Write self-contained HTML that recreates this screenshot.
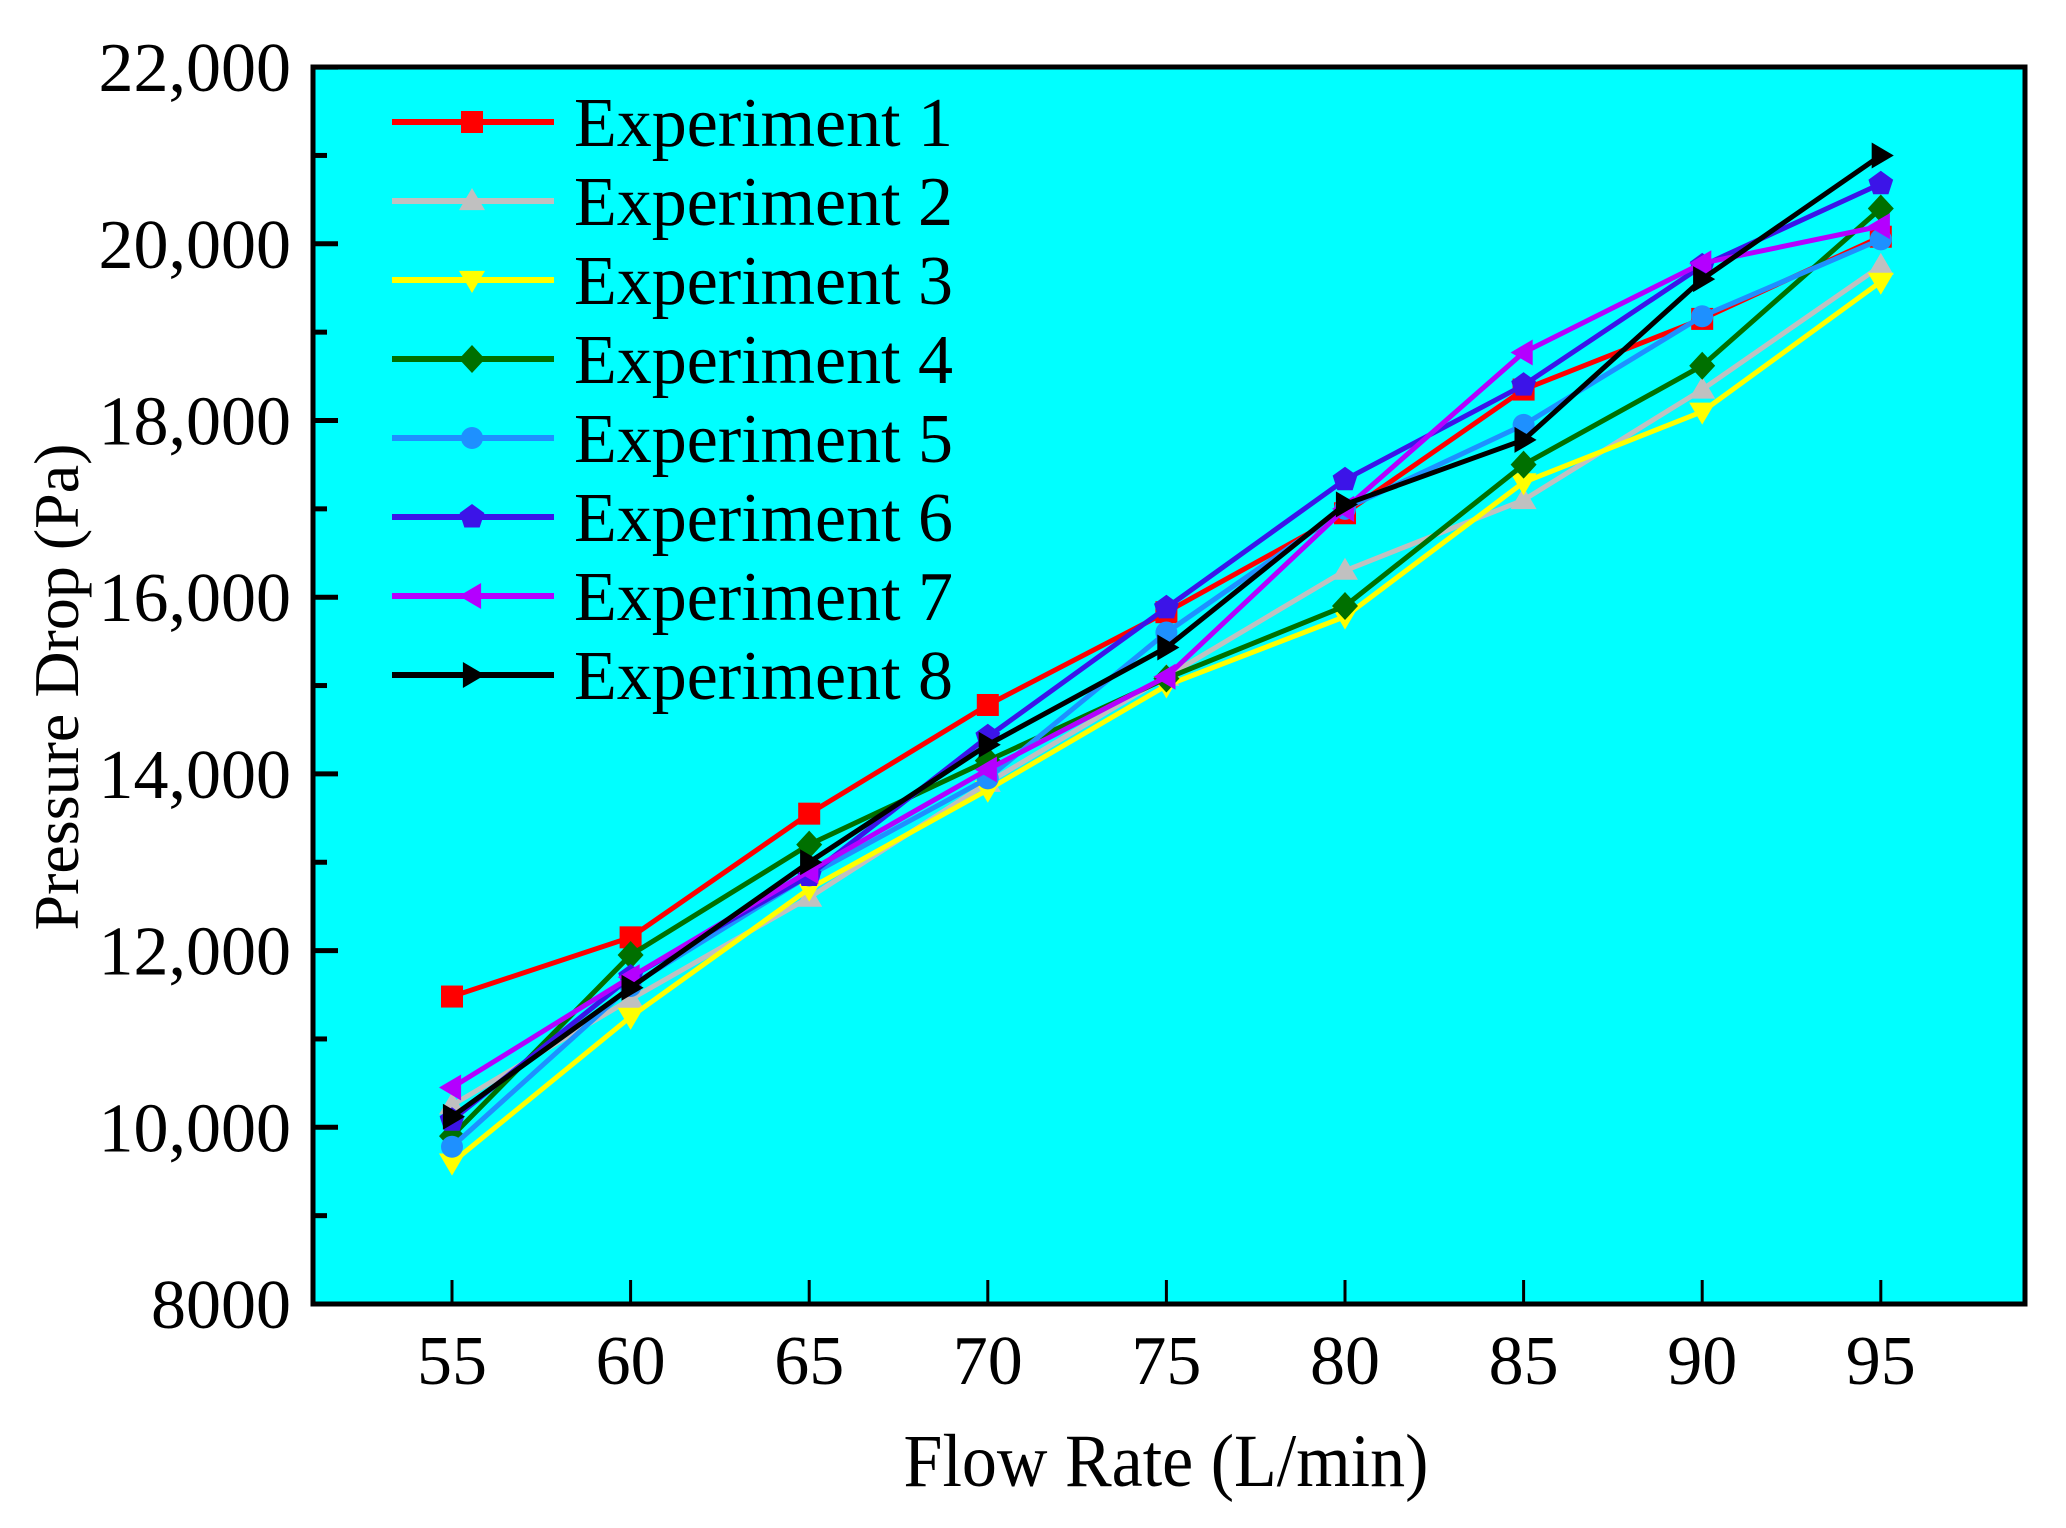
<!DOCTYPE html>
<html><head><meta charset="utf-8"><style>body{margin:0;background:#fff}svg{display:block}text{font-family:"Liberation Serif",serif}</style></head>
<body>
<svg id="chart" width="2066" height="1528" viewBox="0 0 2066 1528" xmlns="http://www.w3.org/2000/svg">
<rect x="313" y="67" width="1712" height="1237" fill="#00ffff"/>
<g id="axes"></g>
<g id="series"></g>
<g id="legend"></g>
<rect x="313" y="67" width="1712" height="1237" fill="none" stroke="#000" stroke-width="5"/>
<text x="1166" y="1486" font-size="70" text-anchor="middle" transform="translate(1166,0) scale(1,1.08) translate(-1166,-110)">Flow Rate (L/min)</text>
<text transform="translate(78,687) rotate(-90)" font-size="64" text-anchor="middle">Pressure Drop (Pa)</text>
</svg>
<script>
const categories=[55,60,65,70,75,80,85,90,95];
const seriesNames=["Experiment 1","Experiment 2","Experiment 3","Experiment 4","Experiment 5","Experiment 6","Experiment 7","Experiment 8"];
const exp1=[11480,12150,13550,14780,15830,16950,18350,19150,20080];
const exp2=[10250,11450,12600,13900,15100,16300,17100,18350,19750];
const exp3=[9600,11250,12700,13820,15000,15780,17300,18100,19570];
const exp4=[9900,11950,13200,14150,15080,15900,17500,18620,20400];
const exp5=[9780,11600,12850,13950,15600,17000,17950,19180,20050];
const exp6=[10080,11700,12850,14420,15880,17330,18400,19750,20680];
const exp7=[10450,11700,12900,14050,15100,17000,18770,19780,20200];
const exp8=[10120,11580,13000,14330,15430,17050,17780,19600,21000];
const yTicks=[8000,10000,12000,14000,16000,18000,20000,22000];
const yTickLabels=["8000","10,000","12,000","14,000","16,000","18,000","20,000","22,000"];
const allSeries=[exp1,exp2,exp3,exp4,exp5,exp6,exp7,exp8];
const colors=["#ff0000","#c0c0c0","#ffff00","#007000","#1e90ff","#3c14e8","#b400ff","#000000"];
const markers=["square","tri-up","tri-down","diamond","circle","pentagon","tri-left","tri-right"];
const NS="http://www.w3.org/2000/svg";
const X=v=>452+(v-55)/5*178.6;
const Y=v=>1304-(v-8000)/2000*176.7;
function mk(tag,attrs,parent){const e=document.createElementNS(NS,tag);for(const k in attrs)e.setAttribute(k,attrs[k]);parent.appendChild(e);return e;}
const axes=document.getElementById('axes');
categories.forEach(c=>{
  const t=mk('line',{x1:X(c),x2:X(c),y1:1304,y2:1280,stroke:'#000','stroke-width':3},axes);
  
  
  const l=mk('text',{x:X(c),y:1384,'font-size':70,'text-anchor':'middle'},axes);l.textContent=c;
  
  
});
yTicks.forEach((v,i)=>{
  const t=mk('line',{x1:313,x2:338,y1:Y(v),y2:Y(v),stroke:'#000','stroke-width':5},axes);
  
  
  if(i<yTicks.length-1){const m=mk('line',{x1:313,x2:327,y1:Y(v+1000),y2:Y(v+1000),stroke:'#000','stroke-width':5},axes);
  
  }
  const l=mk('text',{x:291,y:Y(v)+24,'font-size':70,'text-anchor':'end'},axes);l.textContent=yTickLabels[i];
  
  
});
function marker(type,x,y,color,parent){
  const s=13;let e;
  if(type==='square')e=mk('rect',{x:x-s+2,y:y-s+2,width:2*s-4,height:2*s-4,fill:color},parent);
  else if(type==='circle')e=mk('circle',{cx:x,cy:y,r:s-2,fill:color},parent);
  else{let p;
    if(type==='tri-up')p=[[x,y-s],[x+s,y+s*0.7],[x-s,y+s*0.7]];
    else if(type==='tri-down')p=[[x,y+s],[x+s,y-s*0.7],[x-s,y-s*0.7]];
    else if(type==='tri-left')p=[[x-s,y],[x+s*0.7,y-s],[x+s*0.7,y+s]];
    else if(type==='tri-right')p=[[x+s,y],[x-s*0.7,y-s],[x-s*0.7,y+s]];
    else if(type==='diamond')p=[[x,y-s-1],[x+s,y],[x,y+s+1],[x-s,y]];
    else {p=[];for(let k=0;k<5;k++){const a=-Math.PI/2+k*2*Math.PI/5;p.push([x+s*Math.cos(a),y+s*Math.sin(a)]);}}
    e=mk('polygon',{points:p.map(q=>q.join(',')).join(' '),fill:color},parent);}
  return e;
}
const sg=document.getElementById('series');
allSeries.forEach((data,i)=>{
  const g=mk('g',{},sg);
  
  
  const pl=mk('polyline',{points:data.map((v,j)=>X(categories[j])+','+Y(v)).join(' '),fill:'none',stroke:colors[i],'stroke-width':5},g);
  
  
  data.forEach((v,j)=>{const m=marker(markers[i],X(categories[j]),Y(v),colors[i],g);
    
    });
});
const lg=document.getElementById('legend');
seriesNames.forEach((n,i)=>{
  const y=122+i*79;
  const g=mk('g',{},lg);
  
  
  mk('line',{x1:392,x2:554,y1:y,y2:y,stroke:colors[i],'stroke-width':6},g);
  marker(markers[i],472,y,colors[i],g);
  const t=mk('text',{x:574,y:y+24,'font-size':70},g);t.textContent=n;
});
</script>
</body></html>
